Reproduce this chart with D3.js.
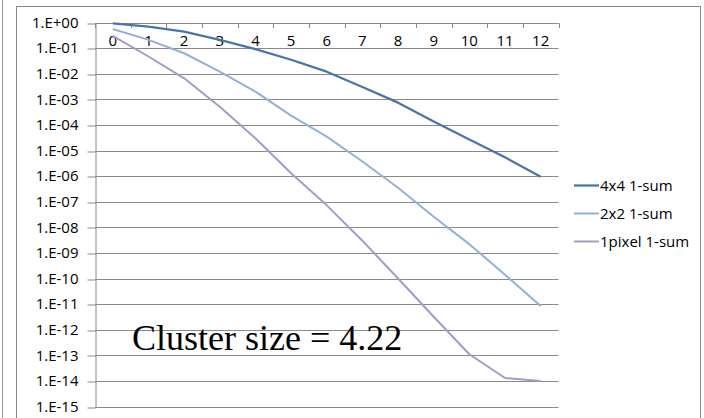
<!DOCTYPE html>
<html>
<head>
<meta charset="utf-8">
<script src="https://cdn.jsdelivr.net/npm/d3@7.8.5/dist/d3.min.js"></script>
<style>
  html, body { margin: 0; padding: 0; background: #fff; }
  svg { display: block; }
</style>
</head>
<body>
<svg id="chart" width="704" height="418"></svg>
<script>
// Iterations on the category axis
const categories = ['0', '1', '2', '3', '4', '5', '6', '7', '8', '9', '10', '11', '12'];

// 1-sum residuals
const sum4x4 = [0.93, 0.69, 0.44, 0.21, 0.091, 0.035, 0.012, 3.0e-3, 7.4e-4, 1.35e-4, 2.7e-5, 5.4e-6, 9.5e-7];
const sum2x2 = [0.56, 0.21, 0.063, 0.012, 2.0e-3, 2.3e-4, 3.5e-5, 3.7e-6, 3.5e-7, 2.6e-8, 2.2e-9, 1.4e-10, 8.5e-12];
const sum1px = [0.30, 0.047, 6.6e-3, 5.1e-4, 3.0e-5, 1.3e-6, 7.2e-8, 3.0e-9, 1.0e-10, 3.2e-12, 1.1e-13, 1.3e-14, 1.0e-14];

const seriesNames = ['4x4 1-sum', '2x2 1-sum', '1pixel 1-sum'];
const yTicks = d3.range(0, -16, -1).map(e => Math.pow(10, e));
const annotation = 'Cluster size = 4.22';

const series = [
    { name: seriesNames[0], values: sum4x4, color: '#4a74ac', width: 2.25 },
    { name: seriesNames[1], values: sum2x2, color: '#94b0da', width: 2 },
    { name: seriesNames[2], values: sum1px, color: '#a89ac4', width: 2 }
];

const svg = d3.select('#chart');
const font = '"Open Sans", "DejaVu Sans", sans-serif';
const gridColor = '#8a8a8a';

// outer frames
svg.append('line')
    .attr('x1', 2.5).attr('x2', 2.5).attr('y1', 0).attr('y2', 418)
    .attr('stroke', '#9a9a9a');
svg.append('rect')
    .attr('x', 16.5).attr('y', 6.5).attr('width', 684).attr('height', 430)
    .attr('fill', '#fff').attr('stroke', '#8a8a8a');

const x = d3.scaleBand().domain(categories).range([95, 558.5]).padding(0);
const y = d3.scaleLog().domain([1e-15, 1]).range([406.5, 22.5]);
const cx = d => x(d) + x.bandwidth() / 2;

// horizontal gridlines
svg.append('g')
    .selectAll('line')
    .data(yTicks)
    .enter()
    .append('line')
    .attr('x1', x.range()[0]).attr('x2', x.range()[1])
    .attr('y1', d => Math.round(y(d)) + 0.5)
    .attr('y2', d => Math.round(y(d)) + 0.5)
    .attr('stroke', gridColor)
    .attr('stroke-width', 1);

// value axis
const fmt = d => {
    const e = Math.round(Math.log10(d));
    const s = Math.abs(e) < 10 ? '0' + Math.abs(e) : String(Math.abs(e));
    return '1.E' + (e < 0 ? '-' : '+') + s;
};
const yAxis = svg.append('g')
    .attr('transform', 'translate(95.5,0)')
    .call(d3.axisLeft(y).tickValues(yTicks).tickFormat(fmt).tickSize(8).tickPadding(9).tickSizeOuter(0));
yAxis.select('.domain').attr('stroke', gridColor);
yAxis.selectAll('.tick line').attr('stroke', gridColor)
    .attr('transform', d => `translate(0,${Math.round(y(d)) + 0.5 - y(d)})`);
yAxis.selectAll('.tick text')
    .attr('fill', '#000')
    .style('font-family', font)
    .style('font-size', '15px');

// category axis, crossing at 1
const xAxis = svg.append('g')
    .attr('transform', `translate(0,${Math.round(y(1)) + 0.5})`)
    .call(d3.axisBottom(x).tickSize(0).tickPadding(12));
xAxis.select('.domain').remove();
xAxis.selectAll('.tick text')
    .attr('fill', '#000')
    .style('font-family', font)
    .style('font-size', '15px');
svg.append('g')
    .selectAll('line')
    .data(categories.map(c => x(c)).concat([x.range()[1]]))
    .enter()
    .append('line')
    .attr('x1', d => Math.round(d) + 0.5).attr('x2', d => Math.round(d) + 0.5)
    .attr('y1', Math.round(y(1))).attr('y2', Math.round(y(1)) + 5)
    .attr('stroke', gridColor);

// series lines
const line = d3.line()
    .x((d, i) => cx(categories[i]))
    .y(d => y(d));

svg.append('g')
    .selectAll('path')
    .data(series)
    .enter()
    .append('path')
    .attr('d', d => line(d.values))
    .attr('fill', 'none')
    .attr('stroke', d => d.color)
    .attr('stroke-width', d => d.width)
    .attr('stroke-linejoin', 'round');

// legend
const legend = svg.append('g')
    .selectAll('g')
    .data(series)
    .enter()
    .append('g')
    .attr('transform', (d, i) => `translate(574,${185.5 + i * 28})`);
legend.append('line')
    .attr('x1', 0).attr('x2', 25)
    .attr('stroke', d => d.color)
    .attr('stroke-width', d => d.width);
legend.append('text')
    .attr('x', 26)
    .attr('dy', '0.35em')
    .style('font-family', font)
    .style('font-size', '15px')
    .attr('fill', '#000')
    .text(d => d.name);

// annotation
svg.append('text')
    .attr('x', 132)
    .attr('y', 349.5)
    .style('font-family', '"Liberation Serif", "Times New Roman", serif')
    .style('font-size', '36px')
    .attr('fill', '#000')
    .text(annotation);
</script>
</body>
</html>
